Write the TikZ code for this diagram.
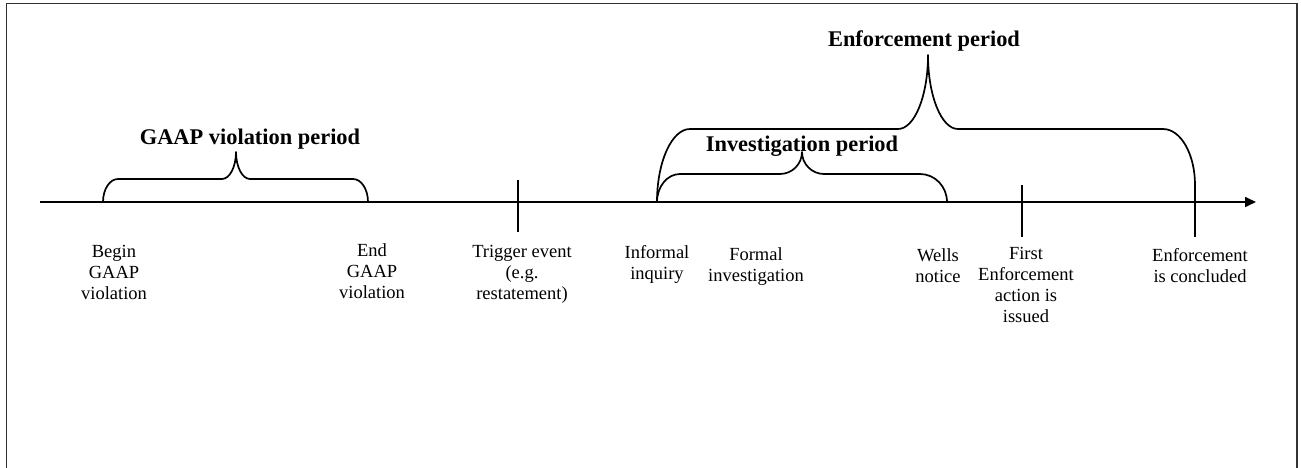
\documentclass[tikz,border=0pt]{standalone}
\usepackage{fontspec}
\setmainfont{Liberation Serif}
\usetikzlibrary{arrows.meta}
\begin{document}
\begin{tikzpicture}[x=1pt,y=-1pt,
  lbl/.style={font=\fontsize{18.5}{21}\selectfont, align=center, anchor=north, inner sep=0pt},
  ttl/.style={font=\fontsize{22.4}{26}\selectfont\bfseries, anchor=base, inner sep=0pt},
  ln/.style={line width=1.7pt, line join=round},
  frame/.style={line width=1.5pt, black!80}]
\useasboundingbox (0,0) rectangle (1301,468);
% frame
\coordinate (fbl) at (6.5,472);
\coordinate (ftl) at (6.5,3.5);
\coordinate (ftr) at (1297,3.5);
\coordinate (fbr) at (1297,472);
\draw[frame] (fbl) -- (ftl) -- (ftr) -- (fbr);
% axis
\coordinate (a0) at (40,202);
\coordinate (a1) at (1256,202);
\draw[ln, -{Triangle[length=11pt,width=10pt]}] (a0) -- (a1);
% ticks
\coordinate (t1a) at (517.7,180); \coordinate (t1b) at (517.7,232);
\coordinate (t2a) at (1021.7,185); \coordinate (t2b) at (1021.7,237);
\coordinate (t3a) at (1195,185); \coordinate (t3b) at (1195,237);
\draw[ln] (t1a) -- (t1b);
\draw[ln] (t2a) -- (t2b);
\draw[ln] (t3a) -- (t3b);
% GAAP brace
\draw[ln] (103,202) .. controls (103,189.3) and (109.7,179) .. (118,179) -- (222,179)
  .. controls (229.7,179) and (236,166.9) .. (236,152)
  .. controls (236,166.9) and (242.3,179) .. (250,179) -- (353,179)
  .. controls (361.3,179) and (368,189.3) .. (368,202);
% Investigation brace
\draw[ln] (657,202) .. controls (657,186.5) and (667.3,174) .. (680,174) -- (780,174)
  .. controls (792.1,174) and (802,164.1) .. (802,152)
  .. controls (802,164.1) and (811.9,174) .. (824,174) -- (920,174)
  .. controls (934.9,174) and (947,186.5) .. (947,202);
% Enforcement brace
\draw[ln] (657,202) .. controls (657,161.7) and (671.8,129) .. (690,129) -- (898,129)
  .. controls (914.6,129) and (928,95.8) .. (928,55)
  .. controls (928,95.8) and (941.4,129) .. (958,129) -- (1163,129)
  .. controls (1180.7,129) and (1195,154) .. (1195,185) -- (1195,202);
% titles
\node[ttl] (gaap) at (250,145) {GAAP violation period};
\node[ttl] (enf) at (924,47) {Enforcement period};
\node[ttl] (inv) at (802,152) {Investigation period};
% labels
\node[lbl] (l1) at (114,245) {Begin\\GAAP\\violation};
\node[lbl] (l2) at (372,243) {End\\GAAP\\violation};
\node[lbl] (l3) at (522,245) {Trigger event\\(e.g.\\restatement)};
\node[lbl] (l4) at (657,245) {Informal\\inquiry};
\node[lbl] (l5) at (756,247) {Formal\\investigation};
\node[lbl] (l6) at (938,248) {Wells\\notice};
\node[lbl] (l7) at (1026,247) {First\\Enforcement\\action is\\issued};
\node[lbl] (l8) at (1200,248) {Enforcement\\is concluded};
\end{tikzpicture}
\end{document}
